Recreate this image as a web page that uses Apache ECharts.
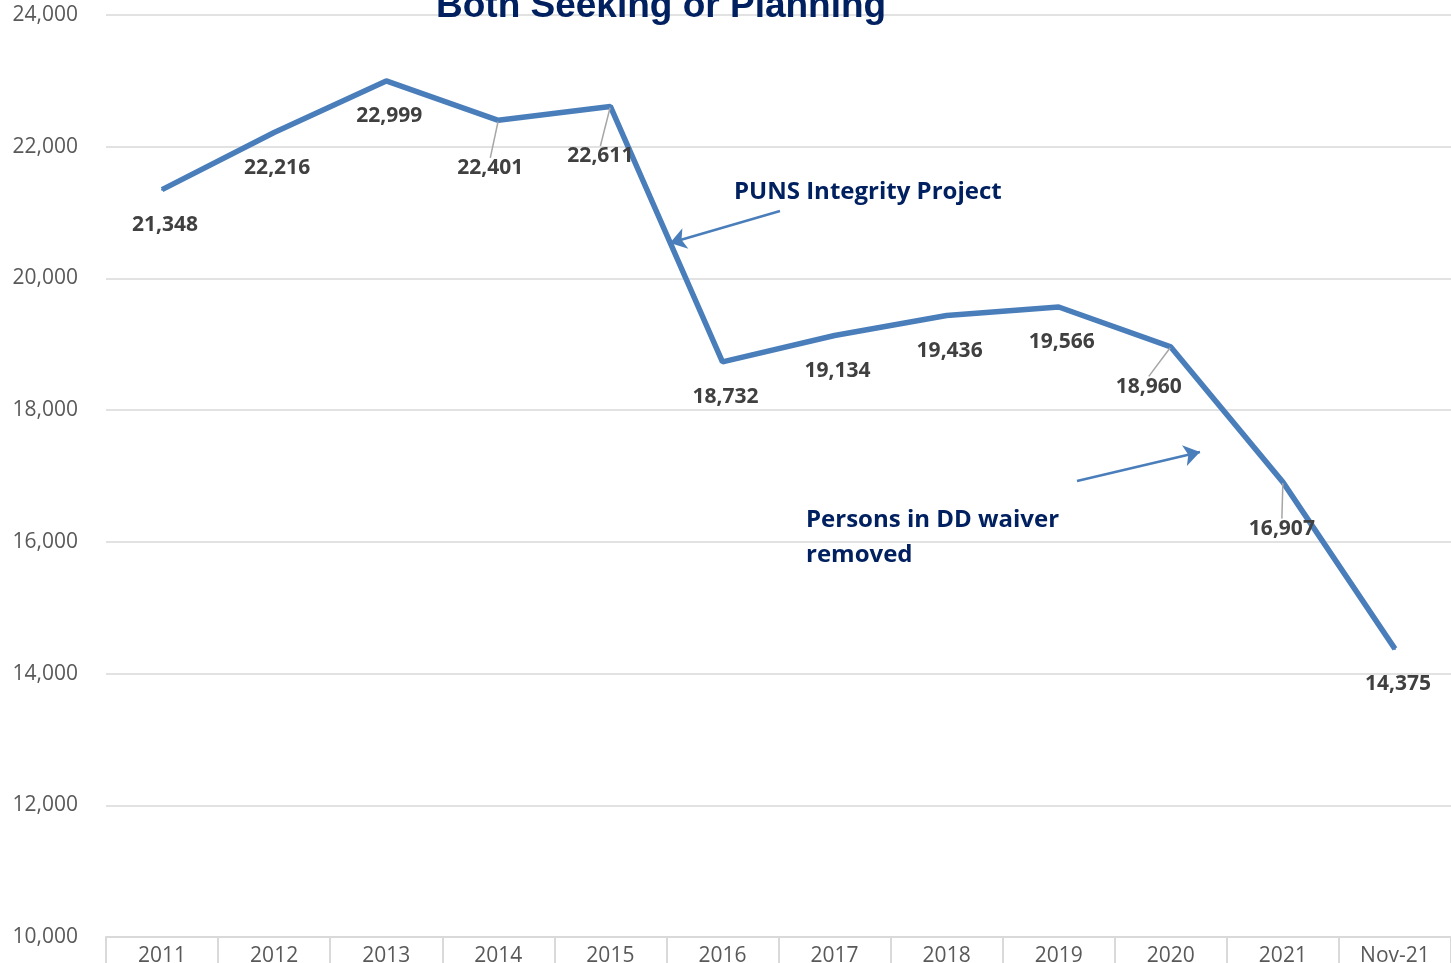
<!DOCTYPE html>
<html style="height: 100%">
<head>
    <meta charset="utf-8">
    <script src="https://cdn.jsdelivr.net/npm/echarts@6/dist/echarts.min.js"></script>
    <title>Both Seeking or Planning</title>
</head>
<body style="height: 100%; margin: 0; background: #fff">
<div id="container" style="width: 1451px; height: 963px"></div>
<script type="text/javascript">

    // chart data
    let categories = ['2011', '2012', '2013', '2014', '2015', '2016', '2017', '2018', '2019', '2020', '2021', 'Nov-21'];
    let values = [21348, 22216, 22999, 22401, 22611, 18732, 19134, 19436, 19566, 18960, 16907, 14375];
    let yTicks = {min: 10000, max: 24000, interval: 2000};

    // labels pulled away from their point, with a leader line: index -> [dx, dy]
    let leaderOffsets = {3: [-8, 48], 4: [-10, 50], 9: [-22, 40], 10: [-1, 47]};

    let blue = '#4a7ebb';
    let navy = '#002060';

    let mainData = values.map((v, i) => ({
        value: v,
        label: {show: !(i in leaderOffsets)}
    }));
    let leaderData = values.map((v, i) => (i in leaderOffsets) ? v : '-');

    let dom = document.getElementById("container");
    let chart = echarts.init(dom);
    chart.setOption({
        animation: false,
        title: {
            text: 'Both Seeking or Planning',
            left: 431,
            top: -17,
            textStyle: {
                fontFamily: 'Liberation Sans',
                fontWeight: 'bold',
                fontSize: 37,
                color: navy
            }
        },
        grid: {left: 106, right: 0, top: 15, bottom: 26, outerBoundsMode: 'none'},
        xAxis: {
            type: 'category',
            data: categories,
            axisLine: {lineStyle: {color: '#d9d9d9', width: 2}},
            axisTick: {show: true, length: 30, lineStyle: {color: '#d9d9d9', width: 2}},
            axisLabel: {
                color: '#595959',
                fontFamily: 'Open Sans',
                fontSize: 21,
                margin: 9
            }
        },
        yAxis: {
            type: 'value',
            min: yTicks.min,
            max: yTicks.max,
            interval: yTicks.interval,
            axisLine: {show: false},
            axisTick: {show: false},
            splitLine: {lineStyle: {color: '#d9d9d9', width: 1.5}},
            axisLabel: {
                color: '#595959',
                fontFamily: 'Open Sans',
                fontSize: 21,
                margin: 28,
                formatter: v => v.toLocaleString('en-US')
            }
        },
        graphic: [
            {
                type: 'text', left: 734, top: 180,
                style: {text: 'PUNS Integrity Project', fill: navy, font: 'bold 24px "Open Sans"'}
            },
            {
                type: 'text', left: 806, top: 503,
                style: {text: 'Persons in DD waiver\nremoved', fill: navy, font: 'bold 24px "Open Sans"', lineHeight: 35}
            }
        ],
        series: [
            {
                type: 'line',
                data: mainData,
                symbol: 'circle',
                symbolSize: 2,
                itemStyle: {color: blue},
                lineStyle: {color: blue, width: 5.5},
                label: {
                    show: true,
                    position: 'bottom',
                    distance: 24,
                    offset: [3, 0],
                    color: '#404040',
                    fontFamily: 'Open Sans',
                    fontWeight: 'bold',
                    fontSize: 21,
                    formatter: p => p.value.toLocaleString('en-US')
                },
                markLine: {
                    silent: true,
                    symbol: ['none', 'arrow'],
                    symbolSize: 16,
                    label: {show: false},
                    lineStyle: {color: blue, width: 2.5, type: 'solid'},
                    data: [
                        [{x: 780, y: 211}, {x: 670, y: 243}],
                        [{x: 1077, y: 481}, {x: 1200, y: 452}]
                    ]
                }
            },
            {
                type: 'line',
                data: leaderData,
                symbol: 'circle',
                symbolSize: 2,
                itemStyle: {color: blue},
                lineStyle: {width: 0, opacity: 0},
                label: {
                    show: true,
                    position: 'inside',
                    color: '#404040',
                    fontFamily: 'Open Sans',
                    fontWeight: 'bold',
                    fontSize: 21,
                    formatter: p => p.value.toLocaleString('en-US')
                },
                labelLine: {show: true, lineStyle: {color: '#a6a6a6', width: 1.5}},
                labelLayout: function (params) {
                    let off = leaderOffsets[params.dataIndex];
                    return off ? {dx: off[0], dy: off[1]} : {};
                }
            }
        ]
    }, true);

</script>
</body>
</html>
